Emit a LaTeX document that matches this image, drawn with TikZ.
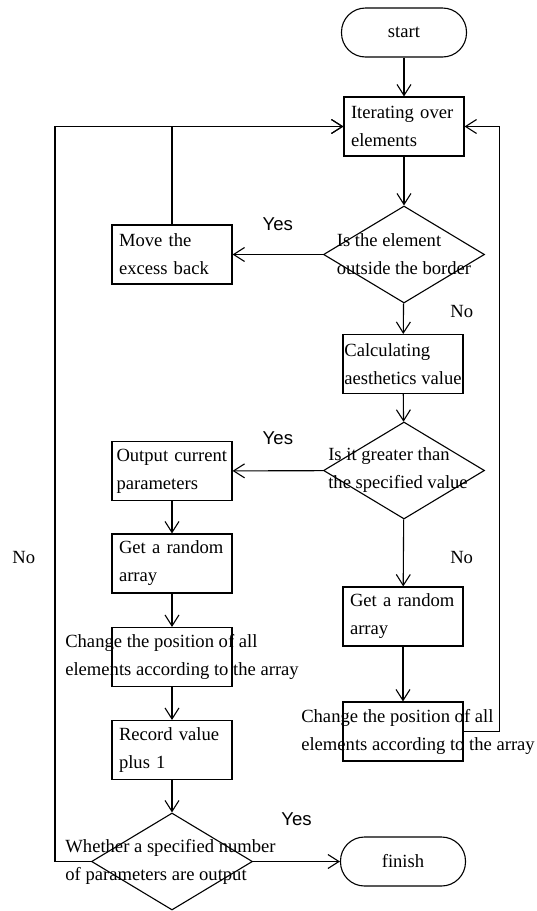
\documentclass[tikz,border=0pt]{standalone}
\usepackage{fontspec}
\setmainfont{Liberation Serif}
\newfontfamily\yesfont{Liberation Sans}
\usetikzlibrary{shapes.geometric,arrows.meta}

\begin{document}
\begin{tikzpicture}[x=1pt, y=-1pt,
	    every node/.style={font=\fontsize{18.6}{28}\selectfont},
	    block/.style={rectangle, draw, line width=1.1pt, minimum width=120pt, minimum height=59pt, inner xsep=7pt, text width=106pt, align=left},
	    plainbox/.style={rectangle, draw, line width=1.1pt, minimum width=120pt, minimum height=59pt, inner sep=0pt},
	    term/.style={rectangle, draw, line width=1.1pt, rounded corners=24pt, minimum width=125pt, minimum height=49pt},
	    decision/.style={diamond, draw, line width=1.1pt, minimum width=161pt, minimum height=97pt, inner sep=0pt},
	    over/.style={align=left, inner sep=0pt},
	    yes/.style={font=\yesfont\fontsize{18.6}{28}\selectfont},
	    line/.style={draw, line width=1.1pt, -{Straight Barb[length=11pt,width=14pt]}}]
	    
	    \useasboundingbox (0,0) rectangle (536,911);
	    
	    % right column
	    \node [term] (start) at (404,32.5) {start};
	    \node [block] (iter) at (404,126.5) {Iterating over\\elements};
	    \node [decision, label={[over]center:{Is the element\\outside the border}}] (dia1) at (404,254.5) {};
	    \node [plainbox, label={[over]center:{Calculating\\aesthetics value}}] (calc) at (403,364) {};
	    \node [decision, label={[over, xshift=-6pt]center:{Is it greater than\\the specified value}}] (dia2) at (404,470.5) {};
	    \node [block] (rand2) at (403,616.5) {Get a random\\array};
	    \node [plainbox, label={[over, xshift=15pt]center:{Change the position of all\\elements according to the array}}] (chg2) at (403,731.5) {};
	    \node [term] (fin) at (403,861.5) {finish};
	    
	    % left column
	    \node [block] (move) at (172,254.5) {Move the\\excess back};
	    \node [block, inner xsep=4.5pt, text width=111pt] (outp) at (172,471) {Output current\\parameters};
	    \node [block] (rand1) at (172,563.5) {Get a random\\array};
	    \node [plainbox, label={[over, xshift=10pt]center:{Change the position of all\\elements according to the array}}] (chg1) at (172,657) {};
	    \node [block] (rec) at (172,750) {Record value\\plus 1};
	    \node [decision, label={[over, xshift=-1.5pt]center:{Whether a specified number\\of parameters are output}}] (dia3) at (172,861.5) {};
	    
	    \path [line] (start) -- (iter);
	    \path [line] (iter) -- (dia1);
	    \path [line] (dia1) -- node[yes, above=20pt] {Yes} (move);
	    \path [line] (move.north) |- (iter.west);
	    \path [line] (dia1) -- node[pos=0.28, right=43pt] {No} (calc);
	    \path [line] (calc) -- (dia2);
	    \path [line] (dia2) -- node[yes, above=22pt] {Yes} (outp);
	    \path [line] (dia2) -- node[pos=0.57, right=43pt] {No} (rand2);
	    \path [line] (rand2) -- (chg2);
	    \path [line] (chg2.east) -- ++(36,0) |- (iter.east);
	    \path [line] (outp) -- (rand1);
	    \path [line] (rand1) -- (chg1);
	    \path [line] (chg1) -- (rec);
	    \path [line] (rec) -- (dia3);
	    \path [line] (dia3) -- node[yes, above=32pt] {Yes} (fin);
	    \path [line] (dia3.west) -- ++(-36,0) |- node[pos=0.207, left=16pt] {No} (iter.west);
	\end{tikzpicture}
\end{document}
